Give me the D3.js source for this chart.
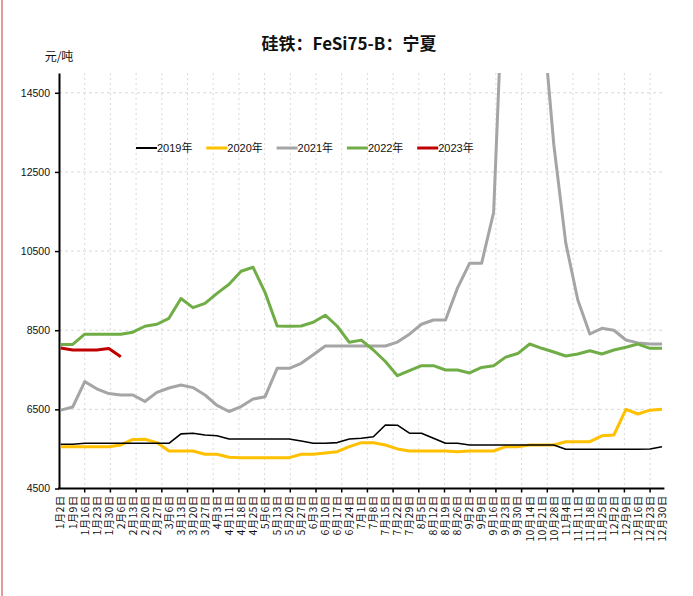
<!DOCTYPE html>
<html>
<head>
<meta charset="utf-8">
<script src="https://cdn.jsdelivr.net/npm/d3@7"></script>
<style>
  body { margin: 0; background: #fff; }
  svg { display: block; }
  text { font-family: "Liberation Sans", "Noto Sans CJK SC", sans-serif; fill: #111; }
</style>
</head>
<body>
<script>
// weekly category labels (every 5 trading days)
var dateLabels = ["1月2日","1月9日","1月16日","1月23日","1月30日","2月6日","2月13日","2月20日","2月27日",
  "3月6日","3月13日","3月20日","3月27日","4月3日","4月11日","4月18日","4月25日","5月6日","5月13日",
  "5月20日","5月27日","6月3日","6月10日","6月17日","6月24日","7月1日","7月8日","7月15日","7月22日",
  "7月29日","8月5日","8月12日","8月19日","8月26日","9月2日","9月9日","9月16日","9月23日","9月30日",
  "10月14日","10月21日","10月28日","11月4日","11月11日","11月18日","11月25日","12月2日","12月9日",
  "12月16日","12月23日","12月30日"];

var yTicks = [4500, 6500, 8500, 10500, 12500, 14500];

var seriesNames = ["2019年", "2020年", "2021年", "2022年", "2023年"];
var seriesColors = ["#000000", "#FFC000", "#A5A5A5", "#70AD47", "#C00000"];

// prices, yuan/ton, one value per label
var price2019 = [5620,5617,5642,5642,5642,5642,5642,5642,5642,5642,5880,5895,5852,5834,5751,5751,5751,
  5751,5751,5751,5700,5642,5642,5660,5751,5770,5809,6105,6100,5900,5895,5768,5642,5642,5599,5599,5599,
  5599,5599,5599,5599,5599,5490,5490,5490,5490,5490,5490,5490,5500,5557];
var price2020 = [5557,5557,5557,5557,5557,5600,5740,5743,5660,5448,5448,5448,5364,5364,5290,5279,5279,
  5279,5279,5279,5364,5364,5400,5430,5557,5658,5658,5600,5500,5448,5448,5448,5448,5430,5448,5448,5448,
  5557,5557,5599,5599,5599,5683,5683,5683,5830,5852,6500,6383,6480,6500];
var price2021 = [6480,6560,7200,7020,6900,6863,6863,6700,6930,7040,7115,7050,6863,6600,6446,6570,6760,
  6820,7537,7537,7664,7880,8100,8100,8100,8100,8100,8100,8200,8400,8650,8758,8758,9570,10190,10190,
  11480,19000,18500,18000,16700,13200,10700,9263,8404,8548,8500,8252,8180,8152,8152];
var price2022 = [8140,8140,8400,8400,8400,8400,8450,8600,8650,8800,9300,9070,9180,9430,9660,9990,10090,
  9450,8606,8600,8606,8700,8880,8600,8194,8250,8000,7710,7350,7480,7603,7603,7495,7495,7420,7560,7603,
  7820,7910,8152,8043,7950,7848,7900,7982,7899,8000,8068,8150,8043,8043];
var price2023 = [8050,8000,8000,8000,8040,7830];

var allSeries = [price2019, price2020, price2021, price2022, price2023];

var w = 693, h = 596;
var plotLeft = 59, plotRight = 664.4, plotTop = 73, plotBottom = 488.5;

var svg = d3.select("body").append("svg")
  .attr("width", w)
  .attr("height", h);

// pink border line on the left
svg.append("line")
  .attr("x1", 2).attr("x2", 2).attr("y1", 0).attr("y2", h)
  .attr("stroke", "#e39a9a").attr("stroke-width", 2);

var xScale = d3.scaleLinear()
  .domain([-0.14, 50.2])
  .range([plotLeft, plotRight]);

var yScale = d3.scaleLinear()
  .domain([4500, 15000])
  .range([plotBottom, plotTop]);

// vertical grid every ~2.14 labels
var gridStep = 2.137;
var xGrid = d3.range(1, 24).map(function(k) { return -0.14 + gridStep * k; });

svg.append("g").selectAll("line")
  .data(xGrid).enter().append("line")
  .attr("x1", d => xScale(d)).attr("x2", d => xScale(d))
  .attr("y1", plotTop).attr("y2", plotBottom)
  .attr("stroke", "#d9d9d9").attr("stroke-dasharray", "2,3");

svg.append("g").selectAll("line")
  .data(yTicks.slice(1)).enter().append("line")
  .attr("x1", plotLeft).attr("x2", plotRight)
  .attr("y1", d => yScale(d)).attr("y2", d => yScale(d))
  .attr("stroke", "#d9d9d9").attr("stroke-dasharray", "3,3");

// y axis
var yAxis = d3.axisLeft(yScale)
  .tickValues(yTicks)
  .tickFormat(d3.format("d"))
  .tickSize(4)
  .tickSizeOuter(0)
  .tickPadding(5);

var yg = svg.append("g")
  .attr("transform", "translate(" + plotLeft + ",0)")
  .call(yAxis);
yg.select(".domain").attr("stroke", "#000").attr("stroke-width", 2);
yg.selectAll(".tick line").attr("stroke", "#000").attr("stroke-width", 1.5);
yg.selectAll(".tick text")
  .style("font-size", "10.5px")
  .style("font-family", "Liberation Sans")
  .attr("fill", "#111");

// x axis: labels are separate, ticks on the grid positions
var xg = svg.append("g")
  .attr("transform", "translate(0," + plotBottom + ")");
xg.append("line")
  .attr("x1", plotLeft - 1).attr("x2", plotRight)
  .attr("stroke", "#000").attr("stroke-width", 2);
xg.selectAll(".xt")
  .data(xGrid).enter().append("line")
  .attr("class", "xt")
  .attr("x1", d => xScale(d)).attr("x2", d => xScale(d))
  .attr("y1", 0).attr("y2", 4)
  .attr("stroke", "#000").attr("stroke-width", 1.5);

xg.selectAll(".xl")
  .data(dateLabels).enter().append("text")
  .attr("class", "xl")
  .attr("transform", (d, i) => "translate(" + (xScale(i) + 3.8) + ",7) rotate(-90)")
  .attr("text-anchor", "end")
  .style("font-size", "10.5px")
  .style("font-family", "Noto Sans CJK SC")
  .style("letter-spacing", "0.3px")
  .attr("fill", "#222")
  .text(d => d);

// clip the 2021 spike at the top of the plot
svg.append("clipPath").attr("id", "plotClip")
  .append("rect")
  .attr("x", plotLeft).attr("y", plotTop)
  .attr("width", plotRight - plotLeft).attr("height", plotBottom - plotTop);

var line = d3.line()
  .x((d, i) => xScale(i))
  .y(d => yScale(d));

// draw order: 2021 and 2022 under, 2019 on top
var order = [2, 3, 1, 4, 0];
svg.append("g")
  .attr("clip-path", "url(#plotClip)")
  .selectAll("path")
  .data(order).enter().append("path")
  .attr("d", k => line(allSeries[k]))
  .attr("fill", "none")
  .attr("stroke", k => seriesColors[k])
  .attr("stroke-width", k => k === 0 ? 1.6 : 3)
  .attr("stroke-linejoin", "round");

// legend
var legend = svg.append("g")
  .attr("transform", "translate(136,148)");
var item = legend.selectAll("g")
  .data(seriesNames).enter().append("g")
  .attr("transform", (d, i) => "translate(" + (i * 70.3) + ",0)");
item.append("line")
  .attr("x1", 0).attr("x2", 21)
  .attr("stroke", (d, i) => seriesColors[i])
  .attr("stroke-width", (d, i) => i === 0 ? 2 : 3);
item.append("text")
  .attr("x", 21).attr("y", 4)
  .style("font-size", "11px")
  .text(d => d);

// title and unit
svg.append("text")
  .attr("x", 349).attr("y", 50)
  .attr("text-anchor", "middle")
  .style("font-family", "Noto Sans CJK SC")
  .style("font-size", "17px")
  .style("font-weight", "bold")
  .text("硅铁：FeSi75-B：宁夏");

svg.append("text")
  .attr("x", 59).attr("y", 61)
  .attr("text-anchor", "middle")
  .style("font-family", "Noto Sans CJK SC")
  .style("font-size", "12px")
  .text("元/吨");
</script>
</body>
</html>
